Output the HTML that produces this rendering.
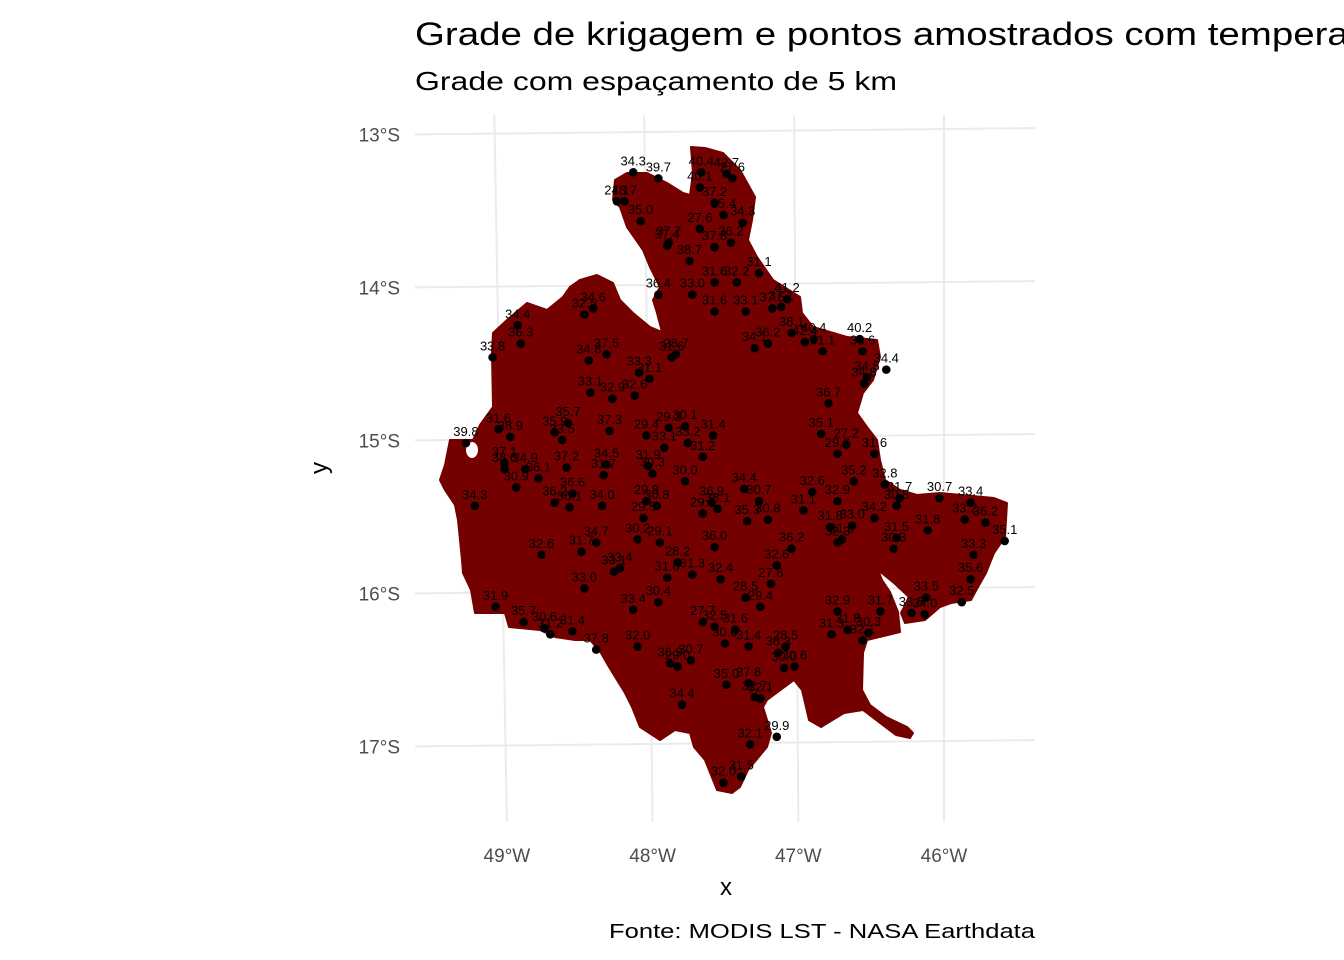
<!DOCTYPE html>
<html><head><meta charset="utf-8"><style>
body{margin:0;background:#fff;width:1344px;height:960px;overflow:hidden;font-family:"Liberation Sans",Arial,sans-serif;}
svg{display:block}
</style></head><body>
<svg id="chart" width="1344" height="960" viewBox="0 0 1344 960" xmlns="http://www.w3.org/2000/svg">
<text x="415" y="45" font-size="32" fill="#000" textLength="1000" lengthAdjust="spacingAndGlyphs">Grade de krigagem e pontos amostrados com temperatura</text>
<text x="415" y="90" font-size="26" fill="#000" textLength="482" lengthAdjust="spacingAndGlyphs">Grade com espaçamento de 5 km</text>
<g id="grid"></g>
<path fill="#750000" stroke="#750000" stroke-width="2" stroke-linejoin="round" d="M691,147 L705,148 L723,153 L740,170 L755,197 L752,220 L748,240 L757,257 L773,280 L800,297 L802,313 L813,327 L847,337 L877,340 L880,357 L873,380 L863,393 L857,413 L867,427 L877,440 L880,460 L885,480 L900,490 L917,495 L940,493 L994,498 L1007,503 L1005,537 L994,553 L986,573 L978,587 L971,600 L951,603 L940,607 L925,620 L905,623 L901,613 L909,597 L894,583 L878,570 L882,580 L890,592 L898,612 L900,632 L867,640 L863,653 L862,690 L870,705 L886,717 L907,727 L913,733 L910,738 L896,735 L863,710 L844,713 L821,727 L809,720 L802,690 L794,680 L767,700 L763,707 L771,733 L767,747 L748,770 L740,787 L732,793 L717,790 L705,760 L694,747 L690,733 L675,730 L660,740 L640,727 L632,707 L625,693 L609,667 L601,653 L590,640 L575,640 L555,637 L540,630 L509,627 L505,613 L475,613 L471,590 L463,573 L462,560 L458,520 L455,505 L445,490 L440,480 L445,465 L450,440 L473,440 L480,425 L493,407 L492,353 L493,333 L507,320 L527,303 L547,310 L563,297 L570,287 L580,280 L597,275 L613,283 L620,300 L633,313 L650,327 L662,332 L657,313 L653,300 L660,287 L650,267 L643,250 L627,227 L620,207 L613,200 L615,180 L627,173 L647,173 L667,183 L683,193 L690,195 L693,173 Z"/>
<ellipse cx="472" cy="450" rx="6" ry="8" fill="#fff"/>
<g id="points"></g>
<g id="axes"></g>
<text x="726" y="895" font-size="24" text-anchor="middle" fill="#000">x</text>
<text x="0" y="0" font-size="24" text-anchor="middle" fill="#000" transform="translate(327,468) rotate(-90)">y</text>
<text x="609" y="938" font-size="20" fill="#000" textLength="426" lengthAdjust="spacingAndGlyphs">Fonte: MODIS LST - NASA Earthdata</text>
</svg>
<script>
const labels=["34.3","39.7","24.1","18.7","35.0","40.4","42.7","27.6","40.1","37.2","35.4","34.3","27.6","37.8","36.2","37.7","37.4","38.7","31.1","31.6","32.2","36.4","33.0","31.6","33.1","37.5","37.1","41.2","38.1","42.4","40.4","31.1","36.2","34.1","40.2","36.6","34.4","34.5","34.8","36.7","35.1","27.2","29.6","31.6","32.5","34.6","34.4","36.3","33.8","34.8","37.5","31.6","28.7","33.3","31.1","33.1","32.9","32.6","35.7","35.9","33.5","31.6","38.9","39.8","37.3","29.4","29.3","30.1","31.4","33.1","33.2","31.2","37.1","38.6","34.9","36.1","30.9","37.2","34.5","31.7","31.9","30.3","30.0","34.3","36.2","36.1","36.6","34.0","29.8","30.8","29.5","29.0","36.9","38.1","34.4","30.7","35.3","30.8","32.6","31.1","32.9","31.8","33.0","31.5","32.3","35.2","32.8","31.7","30.8","34.2","31.5","30.3","31.8","30.7","33.4","33.2","36.2","35.1","33.3","35.6","33.5","32.5","33.8","34.0","32.9","31.7","31.3","31.8","32.1","30.3","32.6","31.7","34.7","30.2","29.1","36.0","36.2","32.6","27.8","28.5","29.4","32.4","31.3","31.0","28.2","33.1","33.4","33.0","31.9","35.7","30.6","31.2","31.4","37.8","33.4","30.4","27.7","32.5","31.6","30.0","31.4","32.0","36.9","29.0","30.7","36.3","28.5","30.0","30.6","35.0","37.8","32.7","32.1","34.4","32.1","29.9","32.0","31.5"];
const lons=[-48.10,-47.93,-48.21,-48.16,-48.05,-47.64,-47.47,-47.43,-47.65,-47.55,-47.49,-47.36,-47.65,-47.55,-47.44,-47.86,-47.87,-47.72,-47.25,-47.55,-47.40,-47.93,-47.70,-47.55,-47.34,-47.16,-47.10,-47.06,-47.03,-46.94,-46.88,-46.82,-47.19,-47.28,-46.57,-46.55,-46.39,-46.52,-46.54,-46.78,-46.83,-46.66,-46.72,-46.47,-48.43,-48.37,-48.88,-48.86,-49.05,-48.40,-48.28,-47.84,-47.81,-48.06,-47.99,-48.39,-48.24,-48.09,-48.54,-48.63,-48.58,-49.01,-48.93,-49.23,-48.26,-48.01,-47.86,-47.75,-47.56,-47.89,-47.73,-47.63,-48.97,-48.97,-48.83,-48.74,-48.89,-48.55,-48.28,-48.30,-48.00,-47.97,-47.75,-49.17,-48.63,-48.53,-48.51,-48.31,-48.01,-47.94,-48.03,-47.63,-47.57,-47.53,-47.35,-47.25,-47.33,-47.19,-46.89,-46.95,-46.72,-46.77,-46.62,-46.69,-46.72,-46.61,-46.40,-46.30,-46.32,-46.47,-46.32,-46.34,-46.11,-46.03,-45.82,-45.86,-45.72,-45.59,-45.80,-45.82,-46.12,-45.88,-46.22,-46.13,-46.72,-46.43,-46.76,-46.65,-46.55,-46.51,-48.72,-48.45,-48.35,-48.07,-47.92,-47.55,-47.03,-47.13,-47.17,-47.34,-47.24,-47.51,-47.70,-47.87,-47.80,-48.23,-48.19,-48.43,-49.03,-48.84,-48.70,-48.66,-48.51,-48.35,-48.10,-47.93,-47.63,-47.55,-47.41,-47.48,-47.32,-48.07,-47.85,-47.80,-47.71,-47.12,-47.07,-47.08,-47.01,-47.47,-47.32,-47.28,-47.24,-47.77,-47.31,-47.13,-47.49,-47.37];
const lats=[-13.25,-13.29,-13.44,-13.44,-13.57,-13.25,-13.26,-13.29,-13.35,-13.45,-13.53,-13.58,-13.62,-13.74,-13.71,-13.71,-13.73,-13.83,-13.91,-13.97,-13.97,-14.05,-14.05,-14.16,-14.16,-14.14,-14.13,-14.08,-14.30,-14.36,-14.34,-14.42,-14.37,-14.40,-14.34,-14.42,-14.54,-14.59,-14.63,-14.76,-14.96,-15.03,-15.09,-15.09,-14.18,-14.14,-14.25,-14.37,-14.46,-14.48,-14.44,-14.46,-14.44,-14.56,-14.60,-14.69,-14.73,-14.71,-14.89,-14.95,-15.00,-14.93,-14.98,-15.02,-14.94,-14.97,-14.92,-14.91,-14.97,-15.05,-15.02,-15.11,-15.15,-15.19,-15.19,-15.25,-15.31,-15.18,-15.16,-15.23,-15.17,-15.22,-15.27,-15.43,-15.41,-15.44,-15.35,-15.43,-15.40,-15.43,-15.51,-15.48,-15.41,-15.45,-15.32,-15.40,-15.53,-15.52,-15.34,-15.46,-15.40,-15.57,-15.56,-15.65,-15.67,-15.27,-15.29,-15.38,-15.43,-15.51,-15.64,-15.71,-15.59,-15.38,-15.41,-15.52,-15.54,-15.66,-15.75,-15.91,-16.03,-16.06,-16.13,-16.14,-16.12,-16.12,-16.27,-16.24,-16.31,-16.26,-15.75,-15.73,-15.67,-15.65,-15.67,-15.70,-15.71,-15.82,-15.94,-16.03,-16.09,-15.91,-15.88,-15.90,-15.80,-15.86,-15.84,-15.97,-16.09,-16.19,-16.23,-16.27,-16.25,-16.37,-16.11,-16.06,-16.19,-16.22,-16.24,-16.33,-16.35,-16.35,-16.46,-16.48,-16.44,-16.39,-16.35,-16.49,-16.48,-16.60,-16.59,-16.68,-16.69,-16.73,-16.99,-16.94,-17.24,-17.20];
const latTicks=[-13,-14,-15,-16,-17];
const latTickLabels=["13°S","14°S","15°S","16°S","17°S"];
const lonTicks=[-49,-48,-47,-46];
const lonTickLabels=["49°W","48°W","47°W","46°W"];

const NS="http://www.w3.org/2000/svg";
function px(lon){return 648+(lon+48)*148;}
function py(lat){return 440-(lat+15)*153;}
function gx(lon,lat){return px(lon)+(lat+15)*0.9*(lon+46);}
function gy(lon,lat){return py(lat)-(lon+48)*1.5;}
function mk(tag,attrs,parent){const e=document.createElementNS(NS,tag);for(const k in attrs)e.setAttribute(k,attrs[k]);parent.appendChild(e);return e;}
const grid=document.getElementById('grid'),axes=document.getElementById('axes'),pts=document.getElementById('points');
latTicks.forEach((lat,i)=>{
  const l=mk('line',{x1:415,y1:gy(-49.6,lat)-2,x2:1035,y2:gy(-45.4,lat)-2,stroke:'#ebebeb','stroke-width':2},grid);
  
  
  const t=mk('text',{x:400,y:gy(-49.6,lat)+5,'font-size':19,'text-anchor':'end',fill:'#4d4d4d'},axes);
  
  
  t.textContent=latTickLabels[i];
});
lonTicks.forEach((lon,i)=>{
  const l=mk('line',{x1:gx(lon,-12.9),y1:115,x2:gx(lon,-17.55),y2:822,stroke:'#ebebeb','stroke-width':2},grid);
  
  
  const t=mk('text',{x:gx(lon,-17.55),y:862,'font-size':19,'text-anchor':'middle',fill:'#4d4d4d'},axes);
  
  
  t.textContent=lonTickLabels[i];
});
lons.forEach((lon,i)=>{
  const x=px(lon),y=py(lats[i]);
  const c=mk('circle',{cx:x,cy:y,r:4.3,fill:'#000'},pts);
  
  
  const t=mk('text',{x:x,y:y-7,'font-size':13,'text-anchor':'middle',fill:'#000'},pts);
  
  
  t.textContent=labels[i];
});
</script>
</body></html>
